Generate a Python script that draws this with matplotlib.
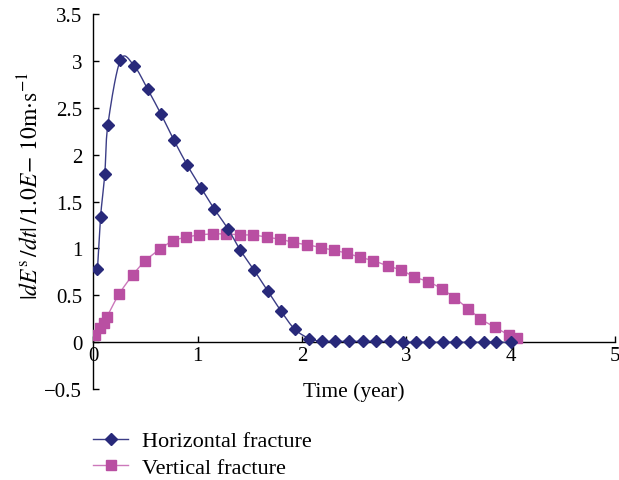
import numpy as np
import matplotlib
matplotlib.use("Agg")
import matplotlib.pyplot as plt
from matplotlib.ticker import FixedLocator, FuncFormatter

plt.rcParams['font.family'] = ['Liberation Serif', 'DejaVu Serif']
plt.rcParams['mathtext.fontset'] = 'stix'

# horizontal fracture
t_h = [0.04, 0.07, 0.11, 0.14, 0.26, 0.39, 0.52, 0.65, 0.77, 0.90, 1.03, 1.16,
       1.29, 1.41, 1.54, 1.67, 1.80, 1.93, 2.07, 2.19, 2.32, 2.45, 2.58, 2.71,
       2.84, 2.97, 3.09, 3.22, 3.35, 3.48, 3.61, 3.74, 3.86, 4.00]
v_h = [0.78, 1.34, 1.79, 2.32, 3.01, 2.95, 2.70, 2.43, 2.16, 1.89, 1.65, 1.42,
       1.21, 0.98, 0.77, 0.55, 0.33, 0.14, 0.04, 0.01, 0.01, 0.01, 0.01, 0.01,
       0.01, 0.0, 0.0, 0.0, 0.0, 0.0, 0.0, 0.0, 0.0, 0.0]

# vertical fracture
t_v = [0.02, 0.06, 0.10, 0.13, 0.245, 0.38, 0.50, 0.635, 0.76, 0.89, 1.015, 1.15,
       1.27, 1.405, 1.53, 1.665, 1.79, 1.915, 2.05, 2.18, 2.31, 2.43, 2.56, 2.685,
       2.82, 2.95, 3.07, 3.21, 3.34, 3.46, 3.59, 3.71, 3.85, 3.98, 4.06]
v_v = [0.08, 0.15, 0.21, 0.27, 0.51, 0.72, 0.87, 0.99, 1.08, 1.12, 1.145, 1.155,
       1.155, 1.145, 1.145, 1.12, 1.10, 1.065, 1.04, 1.01, 0.98, 0.95, 0.905, 0.87,
       0.815, 0.77, 0.70, 0.645, 0.57, 0.475, 0.36, 0.25, 0.16, 0.08, 0.05]

x_ticks = [0, 1, 2, 3, 4, 5]
y_ticks = [-0.5, 0, 0.5, 1, 1.5, 2, 2.5, 3, 3.5]

navy = '#28297a'
navy_line = '#3b3d86'
magenta = '#b94fa2'
magenta_line = '#cc78bb'


def smooth(x, y, n=20):
    # bezier smoothing through the points, control points at 1/6 of the neighbour chord
    p = np.column_stack([x, y]).astype(float)
    ext = np.vstack([p[0], p, p[-1]])
    out = []
    s = np.linspace(0, 1, n)[:, None]
    for i in range(len(p) - 1):
        p0, p1, p2, p3 = ext[i], ext[i + 1], ext[i + 2], ext[i + 3]
        c1 = p1 + (p2 - p0) / 6
        c2 = p2 - (p3 - p1) / 6
        seg = ((1 - s) ** 3) * p1 + 3 * ((1 - s) ** 2) * s * c1 + 3 * (1 - s) * s ** 2 * c2 + s ** 3 * p2
        out.append(seg if i == 0 else seg[1:])
    out = np.vstack(out)
    return out[:, 0], out[:, 1]


fig = plt.figure(figsize=(6.19, 4.81), dpi=100)
ax = fig.add_axes([0.1507, 0.1888, 0.843, 0.78])

xs, ys = smooth(t_v, v_v)
ax.plot(xs, ys, color=magenta_line, lw=1.0, zorder=2)
ax.plot(t_v, v_v, ls='none', marker='s', ms=7.5, color=magenta, mec=magenta, zorder=3)

xs, ys = smooth(t_h, v_h)
ax.plot(xs, ys, color=navy_line, lw=1.0, zorder=4)
ax.plot(t_h, v_h, ls='none', marker='D', ms=6.3, color=navy, mec=navy, zorder=5)

# legend handles
h1, = ax.plot([], [], color=navy_line, lw=1.0, marker='D', ms=6.3, mfc=navy, mec=navy)
h2, = ax.plot([], [], color=magenta_line, lw=1.0, marker='s', ms=7.5, mfc=magenta, mec=magenta)
fig.legend([h1, h2], ['Horizontal fracture', 'Vertical fracture'],
           loc='upper left', bbox_to_anchor=(0.150, 0.102), frameon=False,
           fontsize=16, handlelength=1.6, handletextpad=0.6, labelspacing=0.25,
           borderaxespad=0, borderpad=0)

ax.set_xlim(0, 5)
ax.set_ylim(-0.5, 3.5)
ax.spines['top'].set_visible(False)
ax.spines['right'].set_visible(False)
ax.spines['bottom'].set_position(('data', 0))
ax.spines['left'].set_linewidth(1.0)
ax.spines['bottom'].set_linewidth(1.0)

ax.xaxis.set_major_locator(FixedLocator(x_ticks))
ax.yaxis.set_major_locator(FixedLocator(y_ticks))
fmt = FuncFormatter(lambda v, pos: ('%g' % v).replace('-', '\u2212'))
ax.xaxis.set_major_formatter(fmt)
ax.yaxis.set_major_formatter(fmt)
ax.tick_params(axis='both', direction='in', length=4, width=1.0, labelsize=15, colors='black')
ax.tick_params(axis='x', pad=3)
ax.tick_params(axis='y', pad=8)

ax.set_xlabel('Time (year)', fontsize=15.5)
ax.xaxis.set_label_coords(0.5, 0.022)
ax.set_ylabel(r'$|dE^{\mathrm{s}}\,/dt|\,/1.0E\!-\,10\mathrm{m}{\cdot}\mathrm{s}^{-1}$', fontsize=17)
ax.yaxis.set_label_coords(-0.095, 0.544)

fig.savefig('out.png', dpi=100)
